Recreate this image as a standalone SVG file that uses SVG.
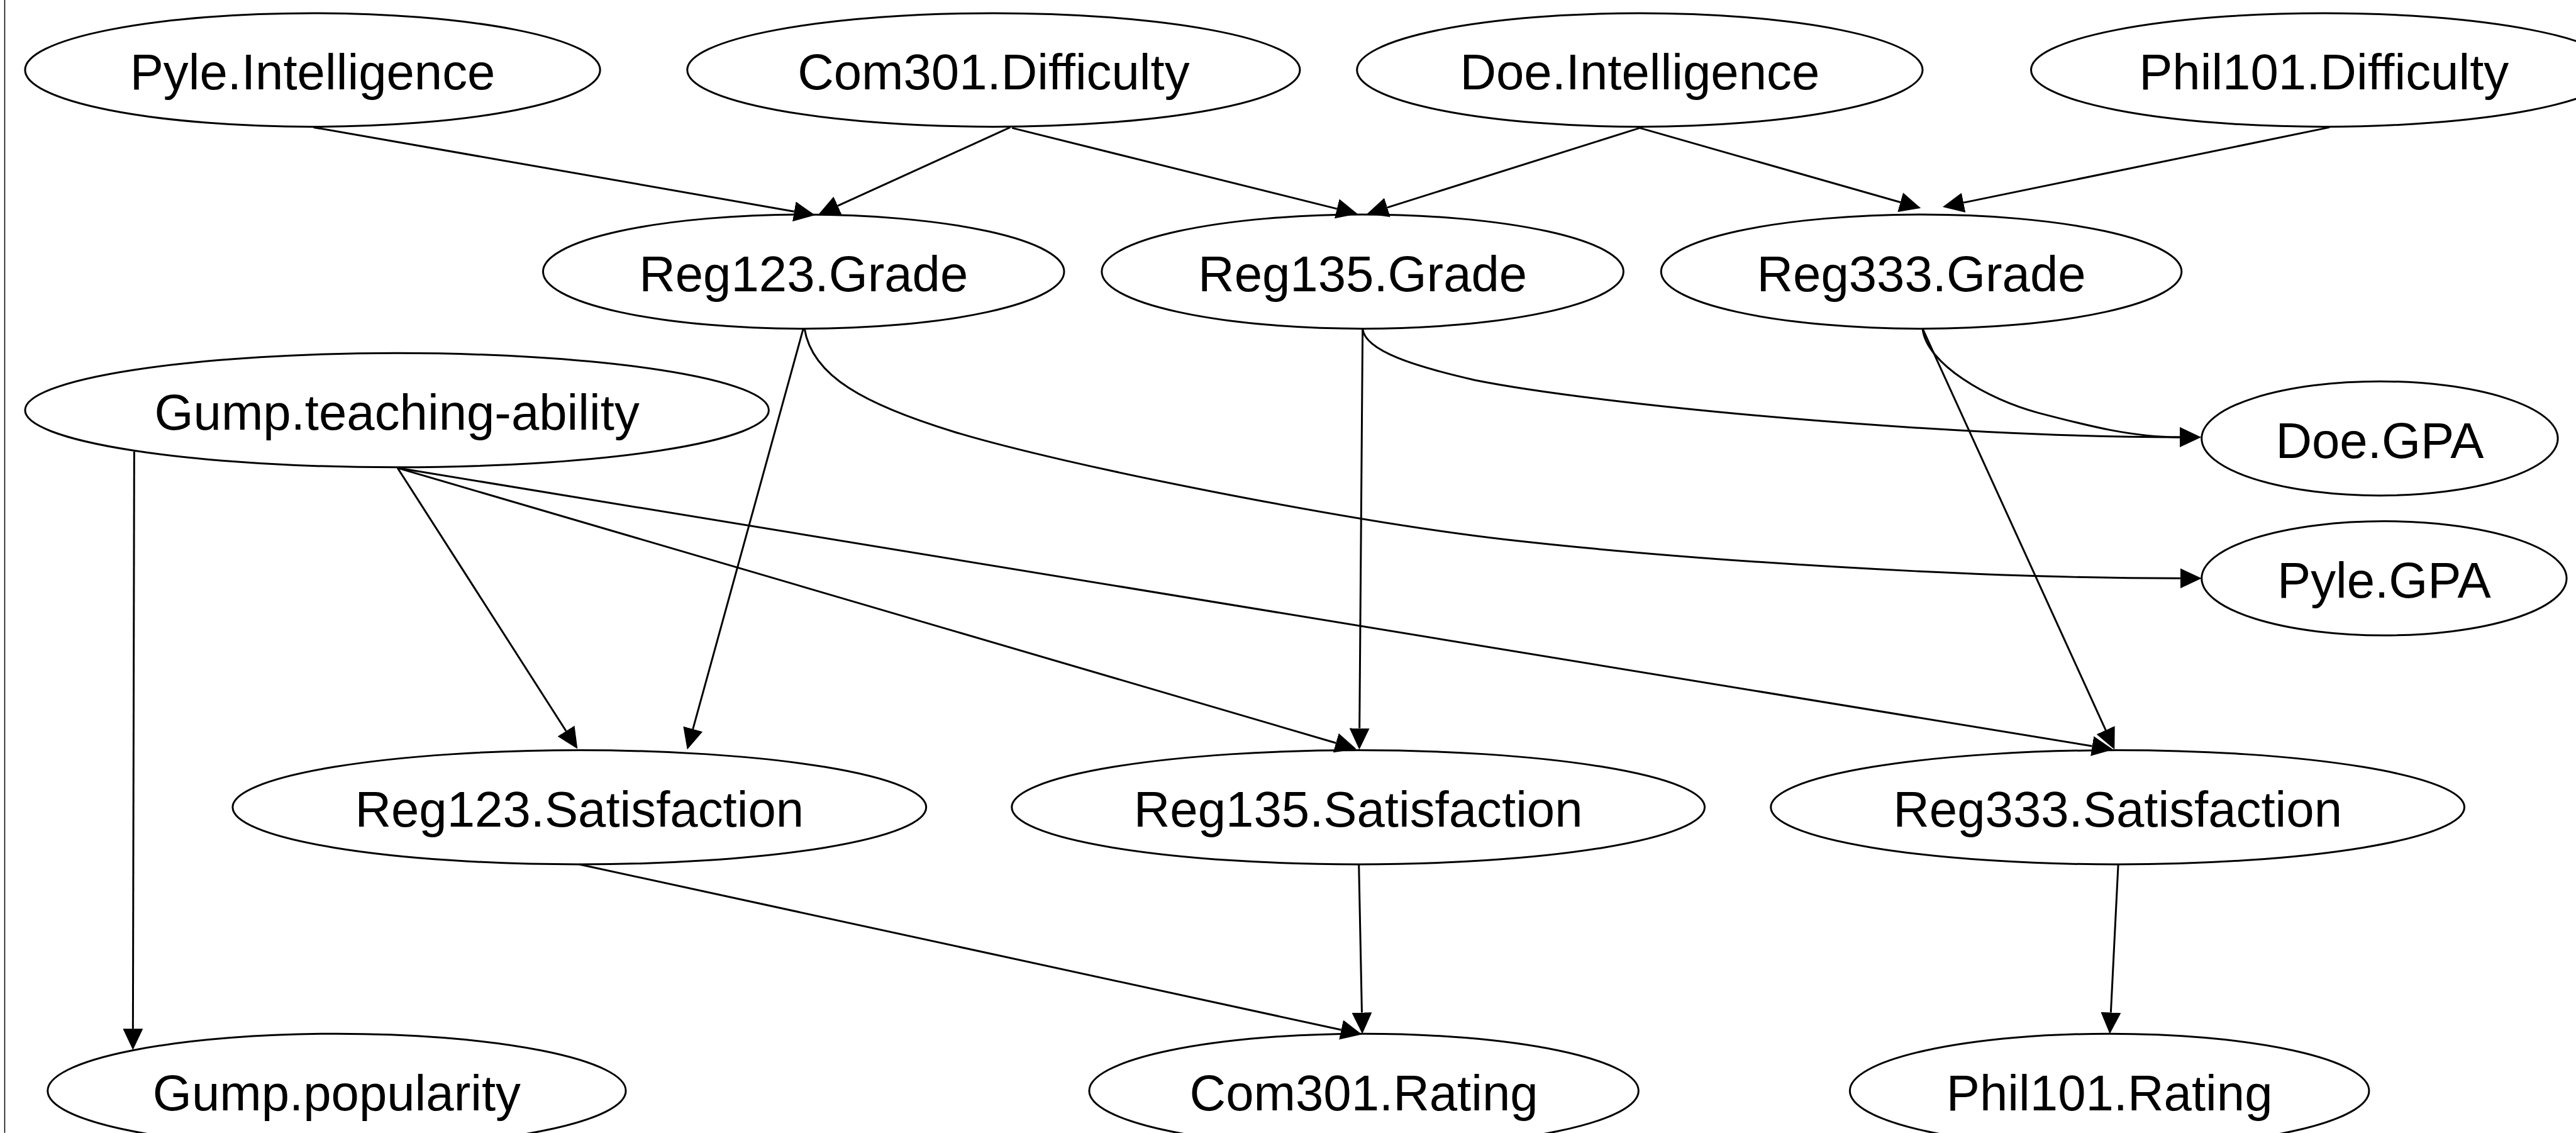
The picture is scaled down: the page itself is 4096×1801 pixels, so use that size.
<svg xmlns="http://www.w3.org/2000/svg" width="4096" height="1801" viewBox="0 0 4096 1801">
  <style>
    .node ellipse { fill: none; stroke: #000; stroke-width: 3; }
    .node text { font-family: "Liberation Sans", Arial, sans-serif; font-size: 80px; text-anchor: middle; fill: #000; }
    .edge { fill: none; stroke: #000; stroke-width: 3; marker-end: url(#arrow); }
  </style>
  <defs>
    <marker id="arrow" viewBox="0 0 34 32" refX="0" refY="16" markerWidth="34" markerHeight="32" markerUnits="userSpaceOnUse" orient="auto">
      <path d="M0,0 L34,16 L0,32 z" fill="#000"/>
    </marker>
  </defs>
  <rect x="0" y="0" width="4096" height="1801" fill="#fff"/>
  <g transform="scale(0.997079)">
    <!-- left frame rule -->
    <line x1="7.5" y1="0" x2="7.5" y2="1806" stroke="#000" stroke-width="1.5"/>

    <g id="edges">
      <path class="edge" d="M500,203 L1266.5,337.2"/>
      <path class="edge" d="M1611,203 L1336,328"/>
      <path class="edge" d="M1614,204 L2132,332.8"/>
      <path class="edge" d="M2615,204 L2212.4,330.8"/>
      <path class="edge" d="M2615,204 L3030.5,322.5"/>
      <path class="edge" d="M3715,203 L3131.3,323.1"/>
      <path class="edge" d="M1281,524 L1105,1162.2"/>
      <path class="edge" d="M1283,524 C1295,600 1380,645 1520,688 C1700,743 2150,831 2400,860 C2700,894 3150,922 3477,922"/>
      <path class="edge" d="M2173,524 C2176,560 2260,585 2352,606 C2552,646 3100,697 3476,697"/>
      <path class="edge" d="M3066,524 C3072,580 3170,637 3250,658 C3330,679 3400,697 3476,697"/>
      <path class="edge" d="M3066,524 L3358,1164"/>
      <path class="edge" d="M2173,524 L2168,1161"/>
      <path class="edge" d="M214,720 L212,1640"/>
      <path class="edge" d="M634,746 L902.7,1165.4"/>
      <path class="edge" d="M634,746 L2130.4,1184.4"/>
      <path class="edge" d="M634,746 L3336.4,1189.5"/>
      <path class="edge" d="M924,1378 L2138.8,1641.8"/>
      <path class="edge" d="M2167,1378 L2171.8,1614.3"/>
      <path class="edge" d="M3378,1378 L3366.2,1614.3"/>
    </g>

    <g id="pyle_intelligence" class="node">
      <ellipse cx="498.5" cy="111.5" rx="458.5" ry="90.5"/>
      <text x="498.5" y="142">Pyle.Intelligence</text>
    </g>
    <g id="com301_difficulty" class="node">
      <ellipse cx="1584.5" cy="111.5" rx="488.5" ry="90.5"/>
      <text x="1584.5" y="142">Com301.Difficulty</text>
    </g>
    <g id="doe_intelligence" class="node">
      <ellipse cx="2615" cy="111.5" rx="451" ry="90.5"/>
      <text x="2615" y="142">Doe.Intelligence</text>
    </g>
    <g id="phil101_difficulty" class="node">
      <ellipse cx="3706" cy="111.5" rx="467" ry="90.5"/>
      <text x="3706" y="142">Phil101.Difficulty</text>
    </g>
    <g id="reg123_grade" class="node">
      <ellipse cx="1281.5" cy="433" rx="415.5" ry="91"/>
      <text x="1281.5" y="464">Reg123.Grade</text>
    </g>
    <g id="reg135_grade" class="node">
      <ellipse cx="2173" cy="433" rx="416" ry="91"/>
      <text x="2173" y="464">Reg135.Grade</text>
    </g>
    <g id="reg333_grade" class="node">
      <ellipse cx="3064" cy="433" rx="415" ry="91"/>
      <text x="3064" y="464">Reg333.Grade</text>
    </g>
    <g id="gump_teaching_ability" class="node">
      <ellipse cx="633" cy="654" rx="593" ry="91"/>
      <text x="633" y="685">Gump.teaching-ability</text>
    </g>
    <g id="doe_gpa" class="node">
      <ellipse cx="3795" cy="699" rx="284" ry="91"/>
      <text x="3795" y="730">Doe.GPA</text>
    </g>
    <g id="pyle_gpa" class="node">
      <ellipse cx="3802" cy="922" rx="291" ry="91"/>
      <text x="3802" y="953">Pyle.GPA</text>
    </g>
    <g id="reg123_satisfaction" class="node">
      <ellipse cx="924" cy="1287" rx="553" ry="91"/>
      <text x="924" y="1318">Reg123.Satisfaction</text>
    </g>
    <g id="reg135_satisfaction" class="node">
      <ellipse cx="2166" cy="1287" rx="552.5" ry="91"/>
      <text x="2166" y="1318">Reg135.Satisfaction</text>
    </g>
    <g id="reg333_satisfaction" class="node">
      <ellipse cx="3377" cy="1287" rx="553" ry="91"/>
      <text x="3377" y="1318">Reg333.Satisfaction</text>
    </g>
    <g id="gump_popularity" class="node">
      <ellipse cx="537" cy="1739" rx="461" ry="91"/>
      <text x="537" y="1770">Gump.popularity</text>
    </g>
    <g id="com301_rating" class="node">
      <ellipse cx="2175" cy="1739" rx="438" ry="91"/>
      <text x="2175" y="1770">Com301.Rating</text>
    </g>
    <g id="phil101_rating" class="node">
      <ellipse cx="3364" cy="1739" rx="414" ry="91"/>
      <text x="3364" y="1770">Phil101.Rating</text>
    </g>
  </g>
</svg>
